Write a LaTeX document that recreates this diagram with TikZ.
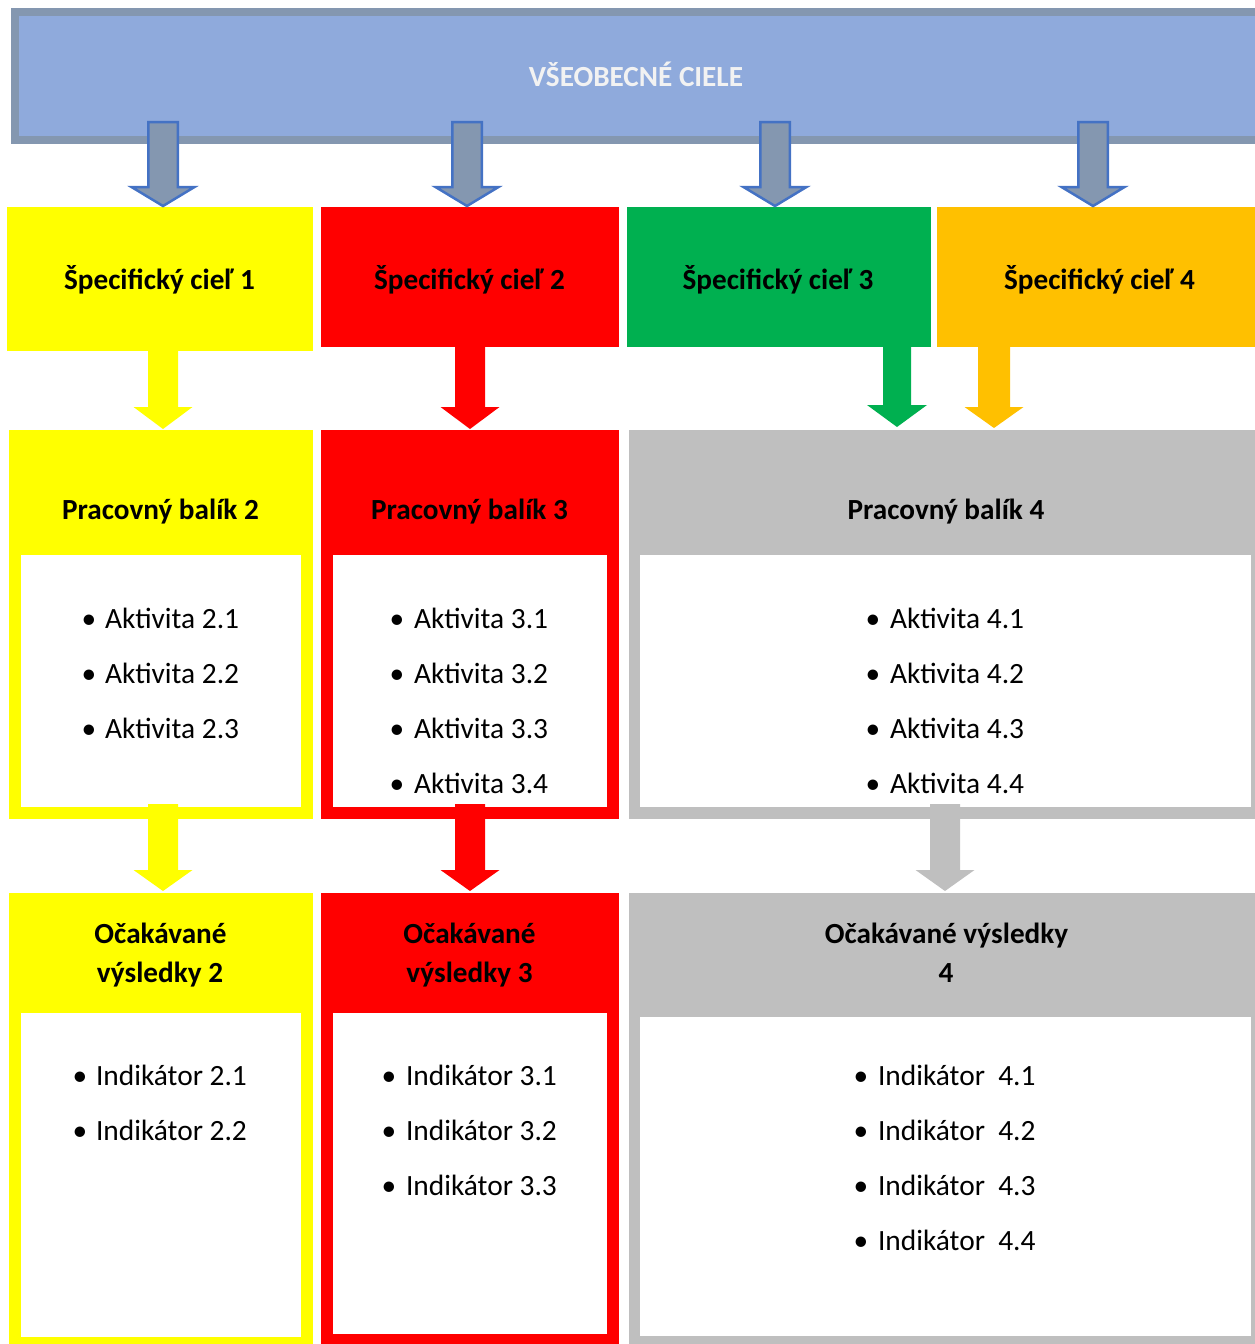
\documentclass[tikz,border=0pt]{standalone}
\usepackage{fontspec}
\setmainfont{Carlito}
\usetikzlibrary{calc}
\definecolor{cYel}{HTML}{FFFF00}
\definecolor{cRed}{HTML}{FF0000}
\definecolor{cGrn}{HTML}{00B050}
\definecolor{cOrg}{HTML}{FFC000}
\definecolor{cGry}{HTML}{BFBFBF}
\definecolor{cBlu}{HTML}{8FAADC}
\definecolor{cSlate}{HTML}{8497B0}
\definecolor{cEdge}{HTML}{4472C4}
\definecolor{cTitle}{HTML}{F2F2F2}

% style, name, x1, y1, x2, y2
\newcommand\boxnode[6]{%
  \node[boxbase,#1,minimum width={(#5-#3)*1pt},minimum height={(#6-#4)*1pt}] (#2) at ({(#3+#5)/2},{(#4+#6)/2}) {};}

% style, from coordinate, to coordinate, shaft half width, head half width, head length
\newcommand\blockarrow[6]{%
  \path[#1] let \p1=(#2), \p2=(#3) in
   (\x1-#4,\y1) -- (\x1+#4,\y1) -- (\x1+#4,\y2+#6) -- (\x1+#5,\y2+#6) -- (\x1,\y2)
   -- (\x1-#5,\y2+#6) -- (\x1-#4,\y2+#6) -- cycle;}

% name prefix, bullet x, text x, first baseline, list
\newcommand\bulletlist[5]{%
  \foreach \t [count=\i from 0] in {#5} {
    \node[txt,anchor=base] (#1b\i) at (#2,{#4+55.3*\i}) {•};
    \node[txt,anchor=base west] (#1t\i) at (#3,{#4+55.3*\i}) {\t};
  }}

\begin{document}
\begin{tikzpicture}[x=1pt,y=-1pt,
  boxbase/.style={rectangle,inner sep=0pt,outer sep=0pt,draw=none},
  txt/.style={inner sep=0pt,outer sep=0pt,font=\fontsize{29.4}{39}\selectfont,text=black},
  headtxt/.style={txt,font=\fontsize{29.2}{39}\selectfont\bfseries},
  bluearrow/.style={fill=cSlate,draw=cEdge,line width=2.5pt,line join=miter},
]
\useasboundingbox (0,0) rectangle (1254,1344);

% banner
\boxnode{fill=cBlu,draw=cSlate,line width=8pt}{top}{15}{12}{1266}{140}

% specific goals
\boxnode{fill=cYel}{s1}{7}{207}{313}{351}
\boxnode{fill=cRed}{s2}{321}{207}{619}{347}
\boxnode{fill=cGrn}{s3}{627}{207}{931}{347}
\boxnode{fill=cOrg}{s4}{937}{207}{1260}{347}

% work packages
\boxnode{fill=cYel}{w1}{9}{430}{313}{819}
\boxnode{fill=white}{w1in}{21}{555}{301}{807}
\boxnode{fill=cRed}{w2}{321}{430}{619}{819}
\boxnode{fill=white}{w2in}{333}{555}{607}{807}
\boxnode{fill=cGry}{w3}{629}{430}{1260}{819}
\boxnode{fill=white}{w3in}{640}{555}{1251}{807}

% expected results
\boxnode{fill=cYel}{r1}{9}{893}{313}{1350}
\boxnode{fill=white}{r1in}{21}{1013}{301}{1337}
\boxnode{fill=cRed}{r2}{321}{893}{619}{1350}
\boxnode{fill=white}{r2in}{333}{1013}{607}{1334}
\boxnode{fill=cGry}{r3}{629}{893}{1260}{1350}
\boxnode{fill=white}{r3in}{640}{1017}{1251}{1336}

% arrow end points
\coordinate (b1s) at (163,122);  \coordinate (b1e) at (163,206);
\coordinate (b2s) at (467,122);  \coordinate (b2e) at (467,206);
\coordinate (b3s) at (775,122);  \coordinate (b3e) at (775,206);
\coordinate (b4s) at (1093,122); \coordinate (b4e) at (1093,206);

\coordinate (y1s) at (163,351); \coordinate (y1e) at (163,429);
\coordinate (y2s) at (470,347); \coordinate (y2e) at (470,429);
\coordinate (y3s) at (897,347); \coordinate (y3e) at (897,427);
\coordinate (y4s) at (994,347); \coordinate (y4e) at (994,428);

\coordinate (z1s) at (163,804); \coordinate (z1e) at (163,891);
\coordinate (z2s) at (470,804); \coordinate (z2e) at (470,891);
\coordinate (z3s) at (945,804); \coordinate (z3e) at (945,891);

% arrows from the general goals
\blockarrow{bluearrow}{b1s}{b1e}{14.75pt}{31.5pt}{19pt}
\blockarrow{bluearrow}{b2s}{b2e}{14.75pt}{31.5pt}{19pt}
\blockarrow{bluearrow}{b3s}{b3e}{14.75pt}{31.5pt}{19pt}
\blockarrow{bluearrow}{b4s}{b4e}{14.75pt}{31.5pt}{19pt}

% arrows to the work packages
\blockarrow{fill=cYel}{y1s}{y1e}{15pt}{29.5pt}{22pt}
\blockarrow{fill=cRed}{y2s}{y2e}{15pt}{29.5pt}{22pt}
\blockarrow{fill=cGrn}{y3s}{y3e}{14pt}{30pt}{22pt}
\blockarrow{fill=cOrg}{y4s}{y4e}{16pt}{29.5pt}{21pt}

% arrows to the expected results
\blockarrow{fill=cYel}{z1s}{z1e}{15pt}{29.5pt}{21pt}
\blockarrow{fill=cRed}{z2s}{z2e}{15pt}{29.5pt}{21pt}
\blockarrow{fill=cGry}{z3s}{z3e}{15pt}{29.5pt}{21pt}

% texts
\node[headtxt,text=cTitle,anchor=base] (ttl) at (636,86) {VŠEOBECNÉ CIELE};

\node[headtxt,anchor=base] (s1t) at (159.5,289) {Špecifický cieľ 1};
\node[headtxt,anchor=base] (s2t) at (469.5,289) {Špecifický cieľ 2};
\node[headtxt,anchor=base] (s3t) at (778,289) {Špecifický cieľ 3};
\node[headtxt,anchor=base] (s4t) at (1099.5,289) {Špecifický cieľ 4};

\node[headtxt,anchor=base] (w1t) at (160.5,519) {Pracovný balík 2};
\node[headtxt,anchor=base] (w2t) at (469.5,519) {Pracovný balík 3};
\node[headtxt,anchor=base] (w3t) at (946,519) {Pracovný balík 4};

\node[headtxt,anchor=base] (r1t) at (160.5,943) {Očakávané};
\node[headtxt,anchor=base] (r1u) at (160,982) {výsledky 2};
\node[headtxt,anchor=base] (r2t) at (469.5,943) {Očakávané};
\node[headtxt,anchor=base] (r2u) at (469.5,982) {výsledky 3};
\node[headtxt,anchor=base] (r3t) at (946.5,943) {Očakávané výsledky};
\node[headtxt,anchor=base] (r3u) at (946,982) {4};

\bulletlist{wa}{89}{105}{628}{Aktivita 2.1,Aktivita 2.2,Aktivita 2.3}
\bulletlist{wb}{397}{414}{628}{Aktivita 3.1,Aktivita 3.2,Aktivita 3.3,Aktivita 3.4}
\bulletlist{wc}{873}{890}{628}{Aktivita 4.1,Aktivita 4.2,Aktivita 4.3,Aktivita 4.4}

\bulletlist{ra}{80}{96}{1085}{Indikátor 2.1,Indikátor 2.2}
\bulletlist{rb}{389}{406}{1085}{Indikátor 3.1,Indikátor 3.2,Indikátor 3.3}
\bulletlist{rc}{861}{878}{1085}{Indikátor\ \ 4.1,Indikátor\ \ 4.2,Indikátor\ \ 4.3,Indikátor\ \ 4.4}
\end{tikzpicture}
\end{document}
